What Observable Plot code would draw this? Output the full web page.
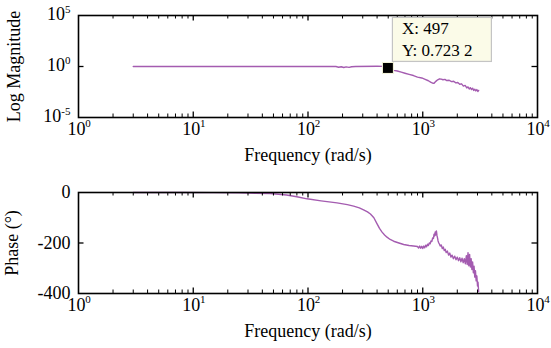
<!DOCTYPE html>
<html>
<head>
<meta charset="utf-8">
<script src="https://cdn.jsdelivr.net/npm/d3@7"></script>
<script src="https://cdn.jsdelivr.net/npm/@observablehq/plot@0.6"></script>
<style>
  html, body { margin: 0; padding: 0; background: #ffffff; }
  #chart svg { display: block; background: #ffffff; font-family: "Liberation Serif", "Times New Roman", serif !important; }
  #chart svg text { font-family: "Liberation Serif", "Times New Roman", serif !important; }
</style>
</head>
<body>
<div id="chart"></div>
<script>
// ---- data ----
const magFreq = [3, 20, 100, 175, 185, 195, 205, 215, 228, 240, 260, 400, 460, 497,
  530, 560, 600, 650, 700, 760, 830, 900, 980, 1050, 1120, 1170, 1210, 1250, 1300,
  1350, 1400, 1450, 1500, 1560, 1620, 1700, 1780, 1860, 1940, 2020, 2100, 2180,
  2260, 2340, 2420, 2480, 2540, 2600, 2660, 2720, 2780, 2840, 2900, 2960, 3020, 3070];
const magVals = [1, 1, 1, 1, 0.85, 0.95, 0.8, 0.92, 0.82, 0.95, 1.0, 1.05, 1.02, 0.7232,
  0.55, 0.42, 0.36, 0.28, 0.22, 0.17, 0.13, 0.09, 0.075, 0.055, 0.04, 0.03, 0.024, 0.022, 0.035,
  0.05, 0.062, 0.058, 0.05, 0.055, 0.042, 0.045, 0.033, 0.036, 0.025, 0.027, 0.018, 0.02,
  0.012, 0.014, 0.008, 0.01, 0.0062, 0.0085, 0.0055, 0.0075, 0.0045, 0.006, 0.004, 0.0055, 0.0035, 0.0045];

const phaseFreq = [3, 8, 15, 25, 35, 47, 65, 80, 98, 130, 179, 220, 250, 280, 305, 330, 350,
  375, 400, 420, 442, 465, 488, 520, 558, 620, 682, 760, 830,
  900, 920, 940, 960, 980, 1000, 1020, 1040, 1060, 1080, 1100, 1120, 1140, 1160, 1180, 1200,
  1220, 1240, 1255, 1270, 1285, 1300, 1315, 1330, 1345, 1360, 1380, 1400, 1420, 1450, 1480,
  1510, 1540, 1570, 1600, 1640, 1680, 1720, 1760, 1800, 1850, 1900, 1950, 2000, 2050, 2100,
  2150, 2200, 2250, 2300, 2350, 2400, 2440, 2480, 2520, 2560, 2600, 2640, 2680, 2720, 2760,
  2800, 2840, 2880, 2920, 2960, 3000, 3030, 3070];
const phaseVals = [0, 0, -0.5, -1.5, -3, -4, -10, -17, -25, -33, -41, -48, -54, -61, -69, -77, -85,
  -100, -124, -142, -157, -168, -177, -186, -193, -200, -206, -210, -212,
  -214, -220, -212, -221, -213, -222, -212, -219, -209, -215, -205, -210, -200, -203, -192, -194,
  -180, -182, -165, -172, -156, -168, -152, -170, -180, -192, -200, -205, -212, -208, -222,
  -216, -230, -225, -238, -232, -248, -240, -256, -248, -262, -252, -266, -256, -270, -258,
  -274, -260, -278, -262, -282, -250, -285, -238, -290, -245, -295, -262, -305, -275, -318,
  -292, -335, -310, -350, -330, -370, -355, -392];

const decades = [0, 1, 2, 3, 4];          // x tick labels 10^k
const magExps = [-5, 0, 5];               // y tick labels 10^k (top)
const phaseTicks = [0, -200, -400];       // y tick labels (bottom)
const tipX = 497, tipY = 0.7232;
const tipLines = ["X: 497", "Y: 0.723 2"];
const xLabel = "Frequency (rad/s)";
const magLabel = "Log Magnitude";
const phaseLabel = "Phase (°)";

// ---- styles ----
const W = 551, ML = 78, MR = 14;
const PW = W - ML - MR;
const lineColor = "#a45cb0";
const font = "Liberation Serif, Times New Roman, serif";
const majorX = decades.slice(1, -1).map(d => 10 ** d);
const minorX = decades.slice(0, -1).flatMap(d => [2,3,4,5,6,7,8,9].map(m => m * 10 ** d));

const magData = magFreq.map((f, i) => ({f, v: magVals[i]}));
const phaseData = phaseFreq.map((f, i) => ({f, v: phaseVals[i]}));

function xTickMarks(h) {
  return [
    Plot.ruleX(minorX, {insetTop: h - 3.5, stroke: "black", strokeWidth: 1}),
    Plot.ruleX(minorX, {insetBottom: h - 3.5, stroke: "black", strokeWidth: 1}),
    Plot.ruleX(majorX, {insetTop: h - 5.5, stroke: "black", strokeWidth: 1.3}),
    Plot.ruleX(majorX, {insetBottom: h - 5.5, stroke: "black", strokeWidth: 1.3}),
    Plot.text(decades, {x: d => 10 ** d, frameAnchor: "bottom", text: () => "10", dy: 17, dx: -2, fontSize: 18, fontFamily: font, textAnchor: "middle"}),
    Plot.text(decades, {x: d => 10 ** d, frameAnchor: "bottom", text: d => String(d), dy: 9.5, dx: 9.5, fontSize: 11, fontFamily: font, textAnchor: "middle"}),
    Plot.text([xLabel], {frameAnchor: "bottom", dy: 43, fontSize: 18, fontFamily: font, textAnchor: "middle"})
  ];
}

// ---- top: magnitude ----
const hTop = 170, mtTop = 15, mbTop = 53;
const phTop = hTop - mtTop - mbTop;
const magChart = Plot.plot({
  width: W, height: hTop,
  marginLeft: ML, marginRight: MR, marginTop: mtTop, marginBottom: mbTop,
  style: {fontFamily: font, fontSize: "18px", color: "black", background: "white"},
  x: {type: "log", domain: [1, 1e4], axis: null},
  y: {type: "log", domain: [1e-5, 1e5], axis: null},
  marks: [
    Plot.line(magData, {x: "f", y: "v", stroke: lineColor, strokeWidth: 1.4}),
    ...xTickMarks(phTop),
    Plot.ruleY([1], {insetRight: PW - 5.5, stroke: "black", strokeWidth: 1.3}),
    Plot.ruleY([1], {insetLeft: PW - 5.5, stroke: "black", strokeWidth: 1.3}),
    ...magExps.flatMap(e => {
      const supW = e < 0 ? 9.2 : 5.5;
      return [
        Plot.text([e], {y: d => 10 ** d, frameAnchor: "left", text: () => "10", textAnchor: "end", dx: -8 - supW, dy: -1, fontSize: 18, fontFamily: font}),
        Plot.text([e], {y: d => 10 ** d, frameAnchor: "left", text: d => String(d), textAnchor: "end", dx: -8, dy: -6.5, fontSize: 11, fontFamily: font})
      ];
    }),
    Plot.text([magLabel], {frameAnchor: "left", rotate: -90, dx: -64.5, fontSize: 18, fontFamily: font, textAnchor: "middle"}),
    Plot.frame({stroke: "black", strokeWidth: 1.6}),
    // data tip box, placed in pixels relative to the point via the plot's scales
    (index, scales) => {
      const px = scales.x(tipX), py = scales.y(tipY);
      const g = d3.create("svg:g");
      g.append("rect")
        .attr("x", px + 5).attr("y", py - 50)
        .attr("width", 99).attr("height", 44)
        .attr("fill", "#fbfbe8").attr("stroke", "#c4c4c4").attr("stroke-width", 1.2);
      return g.node();
    },
    Plot.dot([{f: tipX, v: tipY}], {x: "f", y: "v", symbol: "square", r: 6.2, fill: "black", stroke: "#fbfbe0", strokeWidth: 1}),
    Plot.text([tipLines[0]], {x: () => tipX, y: () => tipY, dx: 14, dy: -39.5, textAnchor: "start", fontSize: 17, fontFamily: font}),
    Plot.text([tipLines[1]], {x: () => tipX, y: () => tipY, dx: 14, dy: -17.8, textAnchor: "start", fontSize: 17, fontFamily: font})
  ]
});

// ---- bottom: phase ----
const hBot = 178, mtBot = 22, mbBot = 55;
const phBot = hBot - mtBot - mbBot;
const phaseChart = Plot.plot({
  width: W, height: hBot,
  marginLeft: ML, marginRight: MR, marginTop: mtBot, marginBottom: mbBot,
  style: {fontFamily: font, fontSize: "18px", color: "black", background: "white"},
  x: {type: "log", domain: [1, 1e4], axis: null},
  y: {domain: [-400, 0], axis: null},
  marks: [
    Plot.line(phaseData, {x: "f", y: "v", stroke: lineColor, strokeWidth: 1.4}),
    ...xTickMarks(phBot),
    Plot.ruleY([-200], {insetRight: PW - 5.5, stroke: "black", strokeWidth: 1.3}),
    Plot.ruleY([-200], {insetLeft: PW - 5.5, stroke: "black", strokeWidth: 1.3}),
    Plot.text(phaseTicks, {y: d => d, frameAnchor: "left", text: d => String(d), textAnchor: "end", dx: -8, fontSize: 18, fontFamily: font}),
    Plot.text([phaseLabel], {frameAnchor: "left", rotate: -90, dx: -66.5, fontSize: 18, fontFamily: font, textAnchor: "middle"}),
    Plot.frame({stroke: "black", strokeWidth: 1.6})
  ]
});

const root = document.getElementById("chart");
root.appendChild(magChart);
root.appendChild(phaseChart);
</script>
</body>
</html>
